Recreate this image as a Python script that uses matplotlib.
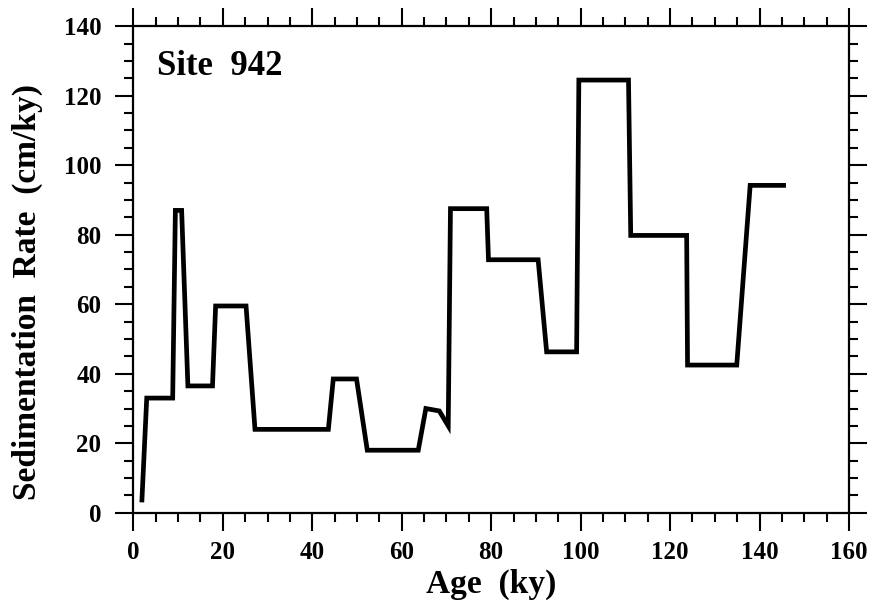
import matplotlib
matplotlib.use("Agg")
import matplotlib.pyplot as plt
from matplotlib.ticker import MultipleLocator

age = [1.9, 3.0, 8.8, 9.4, 10.8, 12.2, 17.7, 18.4, 25.2, 27.2, 43.6, 44.7,
       49.9, 52.3, 63.7, 65.4, 68.4, 70.4, 70.9, 79.0, 79.4, 90.5, 92.4,
       99.1, 99.6, 110.7, 111.2, 123.7, 123.9, 134.9, 137.9, 145.9]
rate = [3.0, 33.0, 33.0, 87.0, 87.0, 36.5, 36.5, 59.5, 59.5, 24.0, 24.0, 38.5,
        38.5, 18.0, 18.0, 30.0, 29.3, 25.0, 87.5, 87.5, 72.8, 72.8, 46.3,
        46.3, 124.5, 124.5, 79.8, 79.8, 42.5, 42.5, 94.2, 94.2]

x_ticks = [0, 20, 40, 60, 80, 100, 120, 140, 160]
y_ticks = [0, 20, 40, 60, 80, 100, 120, 140]

plt.rcParams['font.family'] = ['Liberation Serif', 'DejaVu Serif']
plt.rcParams['font.weight'] = 'bold'

fig = plt.figure(figsize=(8.8, 6.09), dpi=100)
ax = fig.add_axes([0.1515, 0.158, 0.8133, 0.799])

ax.plot(age, rate, color='black', lw=3.4, solid_joinstyle='miter',
        solid_capstyle='butt')

ax.set_xlim(0, 160)
ax.set_ylim(0, 140)
ax.set_xticks(x_ticks)
ax.set_yticks(y_ticks)
ax.xaxis.set_minor_locator(MultipleLocator(5))
ax.yaxis.set_minor_locator(MultipleLocator(5))

for s in ax.spines.values():
    s.set_linewidth(1.6)

ax.tick_params(which='both', direction='out', top=True, right=True,
               labeltop=False, labelright=False, width=1.5)
ax.tick_params(which='major', length=13, labelsize=18)
ax.tick_params(axis='y', which='major', pad=10)
ax.tick_params(axis='x', which='major', pad=7)
ax.tick_params(which='minor', length=6.5)
for lab in ax.get_xticklabels() + ax.get_yticklabels():
    lab.set_fontweight('bold')

ax.set_xlabel('Age  (ky)', fontsize=24, fontweight='bold', labelpad=4)
ax.set_ylabel('Sedimentation  Rate  (cm/ky)', fontsize=24, fontweight='bold')
ax.yaxis.set_label_coords(-0.148, 0.453)
ax.yaxis.label.set_va('center')

ax.text(0.0335, 0.918, 'Site  942', transform=ax.transAxes, fontsize=25,
        fontweight='bold', va='center', ha='left')

fig.savefig('out.png', dpi=100)
